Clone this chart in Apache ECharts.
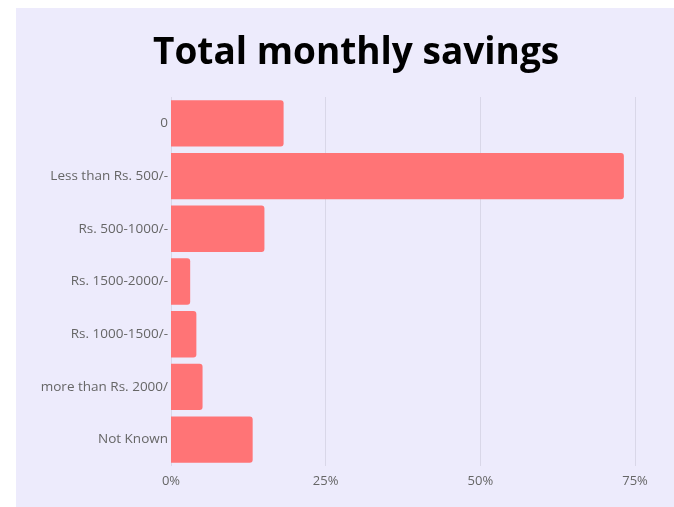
<!DOCTYPE html>
<html>
<head>
<meta charset="utf-8">
<script src="https://cdn.jsdelivr.net/npm/echarts@6/dist/echarts.min.js"></script>
<style>
  html, body { margin: 0; padding: 0; background: #fff; }
  #chart { width: 674px; height: 507px; }
</style>
</head>
<body>
<div id="chart"></div>
<script>
var myChart = echarts.init(document.getElementById('chart'));

// categories top to bottom, values in percent
var categories = ['0', 'Less than Rs. 500/-', 'Rs. 500-1000/-', 'Rs. 1500-2000/-', 'Rs. 1000-1500/-', 'more than Rs. 2000/', 'Not Known'];
var values = [18.2, 73.2, 15.1, 3.1, 4.1, 5.1, 13.2];
var ticks = [0, 25, 50, 75];

var option = {
    backgroundColor: '#fff',
    graphic: [{
        type: 'rect',
        left: 16,
        top: 8,
        shape: { width: 658, height: 499 },
        style: { fill: '#EDEBFC' },
        z: -10
    }],
    title: {
        text: 'Total monthly savings',
        left: 148,
        top: 30,
        textStyle: {
            fontFamily: 'Open Sans',
            fontWeight: 'bold',
            fontSize: 37,
            color: '#000'
        }
    },
    grid: {
        left: 171,
        right: 39,
        top: 97,
        height: 369
    },
    xAxis: {
        type: 'value',
        min: ticks[0],
        max: ticks[ticks.length - 1],
        interval: 25,
        axisLine: { show: false },
        axisTick: { show: false },
        axisLabel: {
            formatter: '{value}%',
            color: '#666',
            fontFamily: 'Open Sans',
            fontSize: 13,
            margin: 9
        },
        splitLine: {
            lineStyle: { color: '#D9D7E8', width: 1 }
        }
    },
    yAxis: {
        type: 'category',
        inverse: true,
        data: categories,
        axisLine: { show: false },
        axisTick: { show: false },
        axisLabel: {
            color: '#666',
            fontFamily: 'Open Sans',
            fontSize: 13.5,
            margin: 3
        }
    },
    series: [{
        type: 'bar',
        data: values,
        barCategoryGap: '12%',
        itemStyle: {
            color: '#FF7476',
            borderRadius: [0, 3, 3, 0]
        }
    }]
};

myChart.setOption(option);
</script>
</body>
</html>
